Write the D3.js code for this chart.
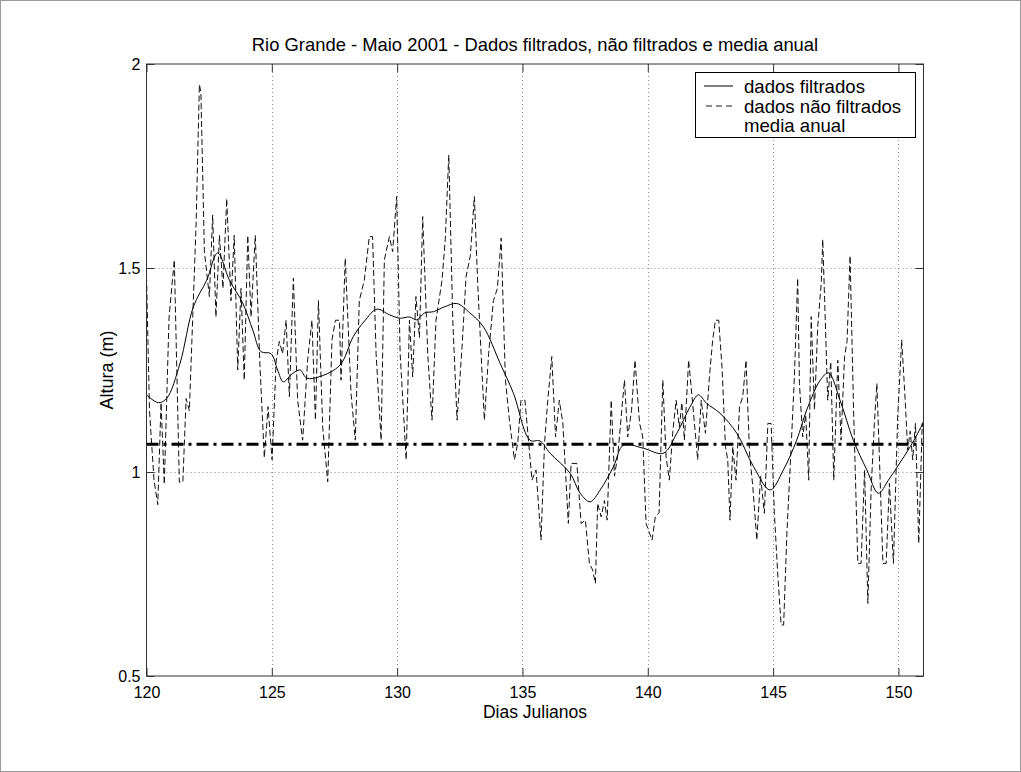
<!DOCTYPE html>
<html>
<head>
<meta charset="utf-8">
<script src="https://cdn.jsdelivr.net/npm/d3@7"></script>
<style>
  html, body { margin: 0; padding: 0; background: #fff; }
  svg { display: block; }
  text { font-family: "Liberation Sans", Arial, Helvetica, sans-serif; fill: #000; }
</style>
</head>
<body>
<svg id="chart" width="1021" height="772"></svg>
<script>
// ---------------- data ----------------
const titleText = "Rio Grande - Maio 2001 - Dados filtrados, não filtrados e media anual";
const xLabelText = "Dias Julianos";
const yLabelText = "Altura (m)";
const xTicks = [120, 125, 130, 135, 140, 145, 150];
const yTicks = [0.5, 1, 1.5, 2];
const xDomain = [120, 151];
const yDomain = [0.5, 2];
const legendLabels = ["dados filtrados", "dados não filtrados", "media anual"];
const meanValue = 1.068;

// unfiltered (raw) series
const rawDays = [
  120.0,120.12,120.3,120.45,120.58,120.71,120.9,121.11,121.31,121.45,121.58,121.71,121.98,122.11,122.17,
  122.31,122.51,122.64,122.77,122.91,123.05,123.2,123.37,123.5,123.64,123.77,123.9,124.04,124.17,124.34,
  124.52,124.7,124.85,125.01,125.17,125.3,125.43,125.57,125.7,125.86,126.03,126.23,126.43,126.6,126.74,
  126.86,127.03,127.23,127.4,127.54,127.7,127.76,127.93,128.16,128.33,128.49,128.69,128.89,129.02,129.16,
  129.36,129.49,129.69,129.82,129.98,130.12,130.36,130.49,130.62,130.75,130.89,131.02,131.22,131.39,131.55,
  131.79,131.92,132.06,132.22,132.39,132.59,132.75,132.92,133.08,133.22,133.35,133.48,133.65,133.84,134.0,
  134.15,134.32,134.48,134.68,134.81,134.94,135.1,135.25,135.38,135.54,135.74,135.88,136.01,136.17,136.32,
  136.47,136.61,136.83,136.94,137.17,137.34,137.51,137.67,137.8,137.91,138.0,138.14,138.27,138.38,138.54,
  138.67,138.8,139.07,139.2,139.35,139.49,139.67,139.8,139.93,140.17,140.3,140.45,140.6,140.73,140.86,
  141.0,141.13,141.26,141.36,141.46,141.63,141.79,141.99,142.13,142.3,142.46,142.59,142.7,142.83,142.96,
  143.1,143.19,143.28,143.39,143.52,143.66,143.79,143.92,144.06,144.19,144.35,144.5,144.65,144.79,144.92,
  145.05,145.19,145.32,145.42,145.55,145.72,145.85,145.98,146.05,146.18,146.3,146.42,146.52,146.65,146.78,
  146.92,146.98,147.18,147.3,147.42,147.58,147.71,147.85,147.95,148.07,148.21,148.38,148.51,148.65,148.78,
  148.91,149.04,149.14,149.24,149.38,149.51,149.64,149.8,149.97,150.13,150.27,150.37,150.47,150.57,150.68,
  150.81,150.95,151.0
];
const rawValues = [
  1.48,1.15,0.98,0.92,1.17,0.97,1.38,1.52,0.975,0.975,1.18,1.15,1.61,1.95,1.93,
  1.54,1.43,1.63,1.38,1.58,1.45,1.67,1.42,1.58,1.25,1.45,1.225,1.58,1.38,1.58,
  1.27,1.035,1.16,1.03,1.27,1.32,1.29,1.372,1.185,1.475,1.176,1.078,1.275,1.372,1.127,
  1.42,1.11,0.976,1.324,1.372,1.372,1.225,1.524,1.193,1.078,1.42,1.47,1.577,1.577,1.29,
  1.078,1.52,1.577,1.54,1.675,1.29,1.03,1.372,1.233,1.43,1.33,1.626,1.29,1.127,1.372,
  1.47,1.57,1.777,1.372,1.127,1.307,1.479,1.53,1.675,1.454,1.29,1.127,1.29,1.42,1.45,
  1.573,1.225,1.127,1.03,1.07,1.176,1.176,1.07,0.98,1.005,0.833,1.07,1.176,1.283,1.086,
  1.176,1.12,0.874,1.021,1.021,0.874,0.882,0.776,0.76,0.727,0.923,0.89,0.93,0.882,1.176,
  0.99,1.04,1.225,1.086,1.15,1.274,1.12,1.086,0.874,0.833,0.89,0.9,1.225,1.037,0.98,
  1.1,1.176,1.11,1.17,1.078,1.274,1.168,1.03,1.176,1.095,1.234,1.324,1.372,1.372,1.258,
  1.062,1.03,0.882,1.062,0.98,1.16,1.185,1.274,1.046,0.964,0.833,0.99,0.899,1.119,1.119,
  0.899,0.744,0.625,0.625,0.85,1.062,1.234,1.475,1.217,1.086,1.14,0.98,1.381,1.152,1.356,
  1.462,1.57,1.176,1.27,0.98,1.274,1.078,1.283,1.32,1.53,1.152,0.776,0.776,1.005,0.678,
  0.956,1.119,1.217,1.037,0.776,0.776,0.972,0.776,1.135,1.324,1.176,1.054,1.1,1.03,1.119,
  0.825,1.119,1.1
];

// filtered series
const filtDays = [
  120.0,120.47,120.8,121.34,121.87,122.4,122.84,123.31,123.84,124.24,124.57,124.97,125.23,125.46,125.8,
  126.13,126.39,126.92,127.72,128.25,128.7,129.19,129.7,130.12,130.5,130.78,131.1,131.45,131.9,132.38,
  132.9,133.44,134.11,134.64,135.3,135.7,136.1,136.9,137.3,137.7,138.1,138.63,139.03,139.83,140.62,
  141.16,141.69,142.02,142.35,142.88,143.55,144.22,144.88,145.41,145.94,146.34,146.88,147.21,147.67,148.2,
  148.74,149.2,149.6,150.0,150.47,150.97,151.0
];
const filtValues = [
  1.189,1.17,1.18,1.267,1.405,1.47,1.537,1.47,1.414,1.348,1.295,1.29,1.25,1.221,1.24,
  1.25,1.23,1.234,1.262,1.332,1.37,1.399,1.385,1.377,1.38,1.373,1.39,1.393,1.405,1.413,
  1.39,1.356,1.266,1.193,1.078,1.076,1.046,0.997,0.948,0.927,0.956,1.013,1.066,1.058,1.046,
  1.095,1.16,1.189,1.168,1.144,1.095,1.013,0.956,1.005,1.078,1.152,1.225,1.243,1.176,1.078,
  1.005,0.948,0.98,1.017,1.062,1.119,1.125
];

// ---------------- drawing ----------------
const W = 1021, H = 772;
const margin = {left: 146.5, right: 1021 - 923.5, top: 64, bottom: 772 - 676};
const svg = d3.select("#chart");

svg.append("rect").attr("x", 0).attr("y", 0).attr("width", W).attr("height", H).attr("fill", "#fff");
svg.append("rect").attr("x", 0.5).attr("y", 0.5).attr("width", W - 1).attr("height", H - 1)
  .attr("fill", "none").attr("stroke", "#9a9a9a").attr("stroke-width", 1);

const x = d3.scaleLinear().domain(xDomain).range([margin.left, W - margin.right]);
const y = d3.scaleLinear().domain(yDomain).range([H - margin.bottom, margin.top]);
const x0 = x.range()[0], x1 = x.range()[1], y0 = y.range()[0], y1 = y.range()[1];

svg.append("defs").append("clipPath").attr("id", "clip")
  .append("rect").attr("x", x0).attr("y", y1).attr("width", x1 - x0).attr("height", y0 - y1);

// grid
const grid = svg.append("g");
grid.selectAll(".gx").data(xTicks.filter(d => d > xDomain[0] && d < xDomain[1])).join("line")
  .attr("x1", d => Math.round(x(d)) + 0.5).attr("x2", d => Math.round(x(d)) + 0.5)
  .attr("y1", y1).attr("y2", y0)
  .attr("stroke", "#8a8a8a").attr("stroke-width", 1).attr("stroke-dasharray", "1,3");
grid.selectAll(".gy").data(yTicks.filter(d => d > yDomain[0] && d < yDomain[1])).join("line")
  .attr("y1", d => Math.round(y(d)) + 0.5).attr("y2", d => Math.round(y(d)) + 0.5)
  .attr("x1", x0).attr("x2", x1)
  .attr("stroke", "#8a8a8a").attr("stroke-width", 1).attr("stroke-dasharray", "1,3");

// data lines
const plot = svg.append("g").attr("clip-path", "url(#clip)");
const line = d3.line().x(d => x(d[0])).y(d => y(d[1]));
const rawPts = rawDays.map((d, i) => [d, rawValues[i]]);
const filtPts = filtDays.map((d, i) => [d, filtValues[i]]);

plot.append("path").datum(rawPts).attr("d", line)
  .attr("fill", "none").attr("stroke", "#111").attr("stroke-width", 1)
  .attr("stroke-dasharray", "6,3");
plot.append("path").datum(filtPts).attr("d", d3.line().curve(d3.curveCatmullRom).x(d => x(d[0])).y(d => y(d[1])))
  .attr("fill", "none").attr("stroke", "#000").attr("stroke-width", 1);
plot.append("path").datum([[xDomain[0], meanValue], [xDomain[1], meanValue]]).attr("d", line)
  .attr("fill", "none").attr("stroke", "#000").attr("stroke-width", 3)
  .attr("stroke-dasharray", "12,5,3,5");

// axes box
svg.append("rect").attr("x", x0).attr("y", y1).attr("width", x1 - x0).attr("height", y0 - y1)
  .attr("fill", "none").attr("stroke", "#333").attr("stroke-width", 1);

// ticks (inward, all four sides)
const tl = 8;
const axB = svg.append("g").attr("transform", `translate(0,${y0})`)
  .call(d3.axisBottom(x).tickValues(xTicks).tickSizeInner(-tl).tickSizeOuter(0).tickPadding(11).tickFormat(d3.format("d")));
const axT = svg.append("g").attr("transform", `translate(0,${y1})`)
  .call(d3.axisTop(x).tickValues(xTicks).tickSizeInner(-tl).tickSizeOuter(0).tickFormat(""));
const axL = svg.append("g").attr("transform", `translate(${x0},0)`)
  .call(d3.axisLeft(y).tickValues(yTicks).tickSizeInner(-tl).tickSizeOuter(0).tickPadding(6).tickFormat(d => d3.format("")(d)));
const axR = svg.append("g").attr("transform", `translate(${x1},0)`)
  .call(d3.axisRight(y).tickValues(yTicks).tickSizeInner(-tl).tickSizeOuter(0).tickFormat(""));
[axB, axT, axL, axR].forEach(a => {
  a.select(".domain").remove();
  a.selectAll(".tick line").attr("stroke", "#333");
  a.selectAll("text").attr("font-family", "'Liberation Sans', Arial, Helvetica, sans-serif")
    .attr("font-size", 16).attr("fill", "#000");
});
axB.selectAll("text").attr("dy", "0.71em");

// title and labels
svg.append("text").attr("x", (x0 + x1) / 2).attr("y", 51).attr("text-anchor", "middle")
  .attr("font-size", 18.4).text(titleText);
svg.append("text").attr("x", (x0 + x1) / 2).attr("y", 718).attr("text-anchor", "middle")
  .attr("font-size", 17.5).text(xLabelText);
svg.append("text").attr("transform", `translate(113,${(y0 + y1) / 2}) rotate(-90)`)
  .attr("text-anchor", "middle").attr("font-size", 18).text(yLabelText);

// legend
const lg = svg.append("g");
lg.append("rect").attr("x", 695.5).attr("y", 72.5).attr("width", 220).attr("height", 65)
  .attr("fill", "#fff").attr("stroke", "#000").attr("stroke-width", 1);
const legY = [86, 106, 125];
lg.append("line").attr("x1", 704).attr("x2", 733).attr("y1", legY[0]).attr("y2", legY[0])
  .attr("stroke", "#000").attr("stroke-width", 1);
lg.append("line").attr("x1", 706).attr("x2", 733).attr("y1", legY[1]).attr("y2", legY[1])
  .attr("stroke", "#1a1a1a").attr("stroke-width", 1).attr("stroke-dasharray", "6,4");
lg.selectAll(".lt").data(legendLabels).join("text")
  .attr("x", 744).attr("y", (d, i) => legY[i]).attr("dy", "0.35em")
  .attr("font-size", 18.6).text(d => d);
</script>
</body>
</html>
